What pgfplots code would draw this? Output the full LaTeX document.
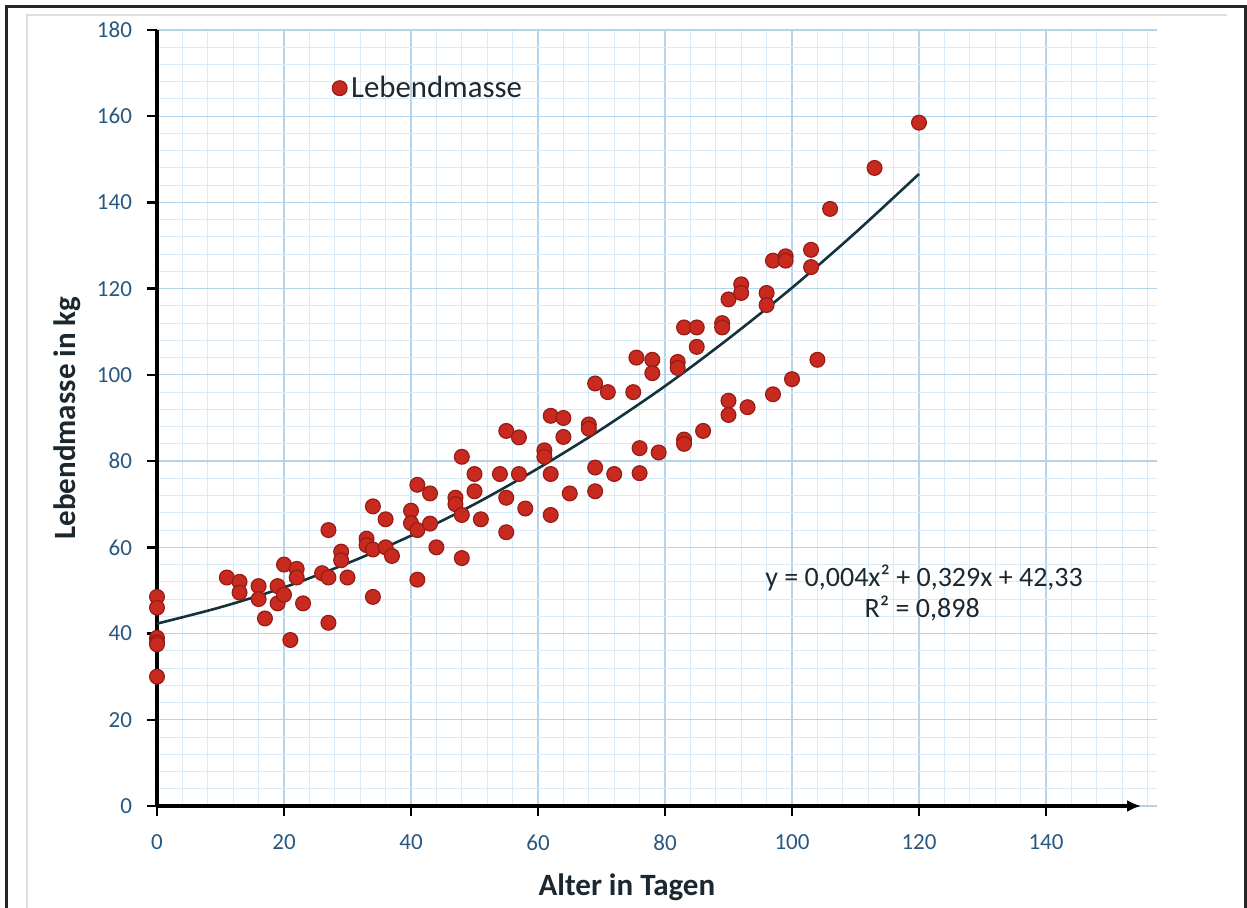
\documentclass[border=0pt]{standalone}
\usepackage{pgfplots}
\pgfplotsset{compat=1.18}
\usepackage{fontspec}
\setmainfont{Carlito}
\usetikzlibrary{arrows.meta}
\definecolor{tickcol}{RGB}{40,88,128}
\definecolor{labcol}{RGB}{28,40,48}
\definecolor{ptfill}{RGB}{200,42,32}
\definecolor{ptdraw}{RGB}{150,28,22}
\definecolor{majgrid}{RGB}{180,212,236}
\definecolor{mingrid}{RGB}{218,234,246}
\definecolor{fitcol}{RGB}{20,50,60}
\begin{document}
\begin{tikzpicture}
\begin{axis}[
  x=3.175pt, y=2.1556pt,
  xmin=0, xmax=157.5, ymin=0, ymax=180,
  axis x line=bottom, axis y line=left,
  x axis line style={-{Latex[length=7pt,width=6pt]}, shorten >=8pt, line width=2pt, black},
  y axis line style={-, line width=2pt, black},
  xtick={0,20,...,140}, ytick={0,20,...,180},
  minor xtick={4,8,...,156}, minor ytick={4,8,...,176},
  grid=both,
  major grid style={majgrid, line width=0.6pt},
  minor grid style={mingrid, line width=0.5pt},
  tick align=outside, major tick length=5pt, minor tick length=0pt,
  major tick style={black, line width=1.2pt},
  tick label style={font=\fontsize{11.5}{12}\selectfont, text=tickcol},
  /pgf/number format/assume math mode=true,
  xticklabel style={yshift=-6pt},
  yticklabel style={xshift=-4pt},
  every axis x label/.style={at={(axis cs:74,0)}, anchor=center, yshift=-40.5pt},
  every axis y label/.style={at={(axis cs:0,90)}, rotate=90, anchor=center, yshift=45pt},
  label style={font=\bfseries\fontsize{15.5}{17}\selectfont, text=labcol},
  xlabel={Alter in Tagen},
  ylabel={Lebendmasse in kg},
  clip=false,
  legend style={draw=none, fill=none, at={(axis cs:26.6,166.5)}, anchor=west,
    font=\fontsize{15.4}{17}\selectfont, text=labcol},
  legend cell align=left,
]
\addplot[only marks, mark=*, mark size=3.7pt, mark options={fill=ptfill, draw=ptdraw, line width=0.6pt}]
coordinates {
(0,48.5) (0,46) (0,39) (0,38) (0,37.5) (0,30)
(11,53) (13,52) (13,49.5) (16,51) (16,48) (17,43.5) (19,51) (19,47) (20,49) (20,56)
(22,55) (22,53) (21,38.5) (23,47) (26,54) (27,53) (27,64) (27,42.5) (29,59) (29,57)
(30,53) (33,62) (33,60.5) (34,69.5) (34,59.5) (36,66.5) (34,48.5) (36,60) (37,58)
(40,68.5) (40,65.6) (41,64) (41,52.5) (41,74.5) (43,72.5) (43,65.5) (44,60)
(47,71.5) (47,70) (48,67.5) (48,81) (48,57.5) (50,77) (50,73) (51,66.5) (54,77)
(55,87) (57,85.5) (55,71.5) (55,63.5) (57,77) (58,69) (61,82.5) (61,81) (62,90.5)
(64,90) (64,85.6) (62,77) (62,67.5) (65,72.5) (68,88.5) (68,87.5) (69,98) (69,78.5) (69,73)
(71,96) (72,77) (75,96) (75.5,104) (76,83) (76,77.2) (78,103.5) (78,100.4) (79,82)
(82,103) (82,101.6) (83,111) (83,85) (83,84) (85,111) (85,106.5) (86,87) (89,112) (89,111)
(90,117.5) (90,94) (90,90.7) (92,121) (92,119) (93,92.5) (96,119) (96,116.2) (97,126.5)
(97,95.5) (99,127.5) (99,126.5) (100,99) (103,129) (103,125) (104,103.5) (106,138.5)
(113,148) (120,158.5)
};
\addlegendentry{Lebendmasse}
\addplot[smooth, fitcol, line width=1.3pt, forget plot] coordinates {
(0,42.3) (10,46.1) (20,50.7) (30,56.3) (40,62.7) (50,70.0) (60,78.3) (70,87.4)
(80,97.4) (90,108.4) (100,120.2) (110,133.0) (120,146.6)
};
\node[font=\fontsize{14}{15}\selectfont, text=labcol] at (axis cs:120.8,52.9) {y = 0,004x² + 0,329x + 42,33};
\node[font=\fontsize{14}{15}\selectfont, text=labcol] at (axis cs:120.5,45.9) {R² = 0,898};
\end{axis}
\draw[gray!25, line width=1pt] (-65pt,-55pt) -- (-65pt,395.5pt) -- (535pt,395.5pt);
\draw[line width=1.5pt, black!85] (-75pt,-55pt) -- (-75pt,399.5pt) -- (544pt,399.5pt) -- (544pt,-55pt);
\pgfresetboundingbox
\path[use as bounding box] (-78.5pt,-51pt) rectangle (545pt,403pt);
\end{tikzpicture}
\end{document}
